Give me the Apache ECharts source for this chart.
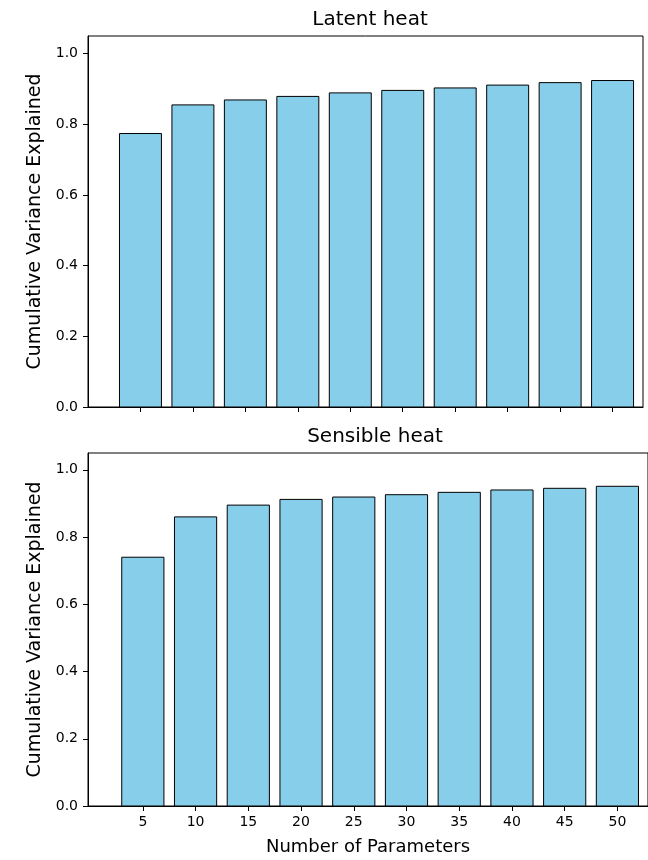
<!DOCTYPE html>
<html>
<head>
<meta charset="utf-8">
<script src="https://cdn.jsdelivr.net/npm/echarts@6/dist/echarts.min.js"></script>
<style>
  html, body { margin: 0; padding: 0; background: #fff; overflow: hidden; }
  #chart { width: 648px; height: 860px; }
</style>
</head>
<body>
<div id="chart"></div>
<script>
// ---- data ----
var numParams = [5, 10, 15, 20, 25, 30, 35, 40, 45, 50];
var latentHeat = [0.774, 0.855, 0.869, 0.879, 0.889, 0.896, 0.903, 0.911, 0.918, 0.924];
var sensibleHeat = [0.740, 0.860, 0.895, 0.912, 0.919, 0.926, 0.933, 0.940, 0.945, 0.951];
var yTicks = [0.0, 0.2, 0.4, 0.6, 0.8, 1.0];
var xTicks = [5, 10, 15, 20, 25, 30, 35, 40, 45, 50];
var titles = ['Latent heat', 'Sensible heat'];
var yLabel = 'Cumulative Variance Explained';
var xLabel = 'Number of Parameters';

var FONT = 'DejaVu Sans';
var BAR_W = 4;

function pairs(xs, ys) { return xs.map(function (x, i) { return [x, ys[i]]; }); }

function renderBar(params, api) {
  var x = api.value(0), y = api.value(1);
  var p0 = api.coord([x - BAR_W / 2, y]);
  var p1 = api.coord([x + BAR_W / 2, 0]);
  return {
    type: 'rect',
    shape: { x: p0[0], y: p0[1], width: p1[0] - p0[0], height: p1[1] - p0[1] },
    style: { fill: '#87CEEB', stroke: '#000', lineWidth: 1 }
  };
}

function yAxis(gridIndex) {
  return {
    type: 'value', gridIndex: gridIndex, min: 0, max: 1.05,
    name: yLabel, nameLocation: 'middle', nameGap: 41,
    nameTextStyle: { fontFamily: FONT, fontSize: 19, color: '#000' },
    splitLine: { show: false },
    axisLine: { show: true, onZero: false, lineStyle: { color: '#000', width: 1 } },
    axisTick: { show: true, length: 5, inside: false, customValues: yTicks, lineStyle: { color: '#000' } },
    axisLabel: { customValues: yTicks, margin: 10, fontFamily: FONT, fontSize: 14, color: '#000',
      formatter: function (v) { return v.toFixed(1); } }
  };
}

function xAxis(gridIndex, min, showLabels) {
  return {
    type: 'value', gridIndex: gridIndex, min: min, max: 52.9,
    name: showLabels ? xLabel : '', nameLocation: 'middle', nameGap: 32,
    nameTextStyle: { fontFamily: FONT, fontSize: 18, color: '#000' },
    splitLine: { show: false },
    axisLine: { show: true, onZero: false, lineStyle: { color: '#000', width: 1 } },
    axisTick: { show: true, length: 5, customValues: xTicks, lineStyle: { color: '#000' } },
    axisLabel: { show: showLabels, customValues: xTicks, margin: 9, fontFamily: FONT, fontSize: 14, color: '#000' }
  };
}

var chart = echarts.init(document.getElementById('chart'), null, { renderer: 'canvas' });
chart.setOption({
  animation: false,
  backgroundColor: '#fff',
  title: [
    { text: titles[0], left: 365, top: 5, textAlign: 'center',
      textStyle: { fontFamily: FONT, fontSize: 20, fontWeight: 'normal', color: '#000' } },
    { text: titles[1], left: 370, top: 422, textAlign: 'center',
      textStyle: { fontFamily: FONT, fontSize: 20, fontWeight: 'normal', color: '#000' } }
  ],
  grid: [
    { left: 88, top: 36, width: 555, height: 371, show: true, borderColor: '#000', borderWidth: 1, backgroundColor: 'transparent' },
    { left: 88, top: 453, width: 566, height: 353, show: true, borderColor: '#000', borderWidth: 1, backgroundColor: 'transparent' }
  ],
  xAxis: [xAxis(0, 0, false), xAxis(1, -0.2, true)],
  yAxis: [yAxis(0), yAxis(1)],
  series: [
    { type: 'custom', xAxisIndex: 0, yAxisIndex: 0, renderItem: renderBar, data: pairs(numParams, latentHeat) },
    { type: 'custom', xAxisIndex: 1, yAxisIndex: 1, renderItem: renderBar, data: pairs(numParams, sensibleHeat) }
  ]
});
</script>
</body>
</html>
